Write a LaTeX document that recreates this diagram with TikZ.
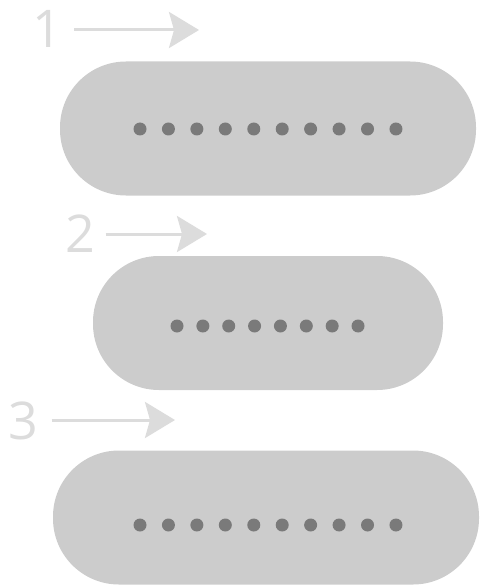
\documentclass[tikz,border=0pt]{standalone}
\usepackage{fontspec}
\setsansfont{Open Sans}
\usetikzlibrary{positioning,arrows.meta}

\definecolor{grisclaro}{HTML}{DCDCDC}
\definecolor{grispastilla}{HTML}{CCCCCC}
\definecolor{grispunto}{HTML}{7A7A7A}

\begin{document}
\begin{tikzpicture}[x=1pt, y=-1pt,
  pastilla/.style={rectangle, fill=grispastilla, rounded corners=66pt,
    minimum height=134pt, inner sep=0pt},
  etiq/.style={font=\sffamily\fontsize{52}{52}\selectfont, text=grisclaro,
    inner sep=0pt},
  flecha/.style={draw=grisclaro, line width=3pt,
    -{Stealth[length=30pt, width=36pt, inset=5pt]}},
  punto/.style={fill=grispunto}]
\useasboundingbox (0,0) rectangle (480,588);
% Pastillas con sus filas de puntos
\node[pastilla, minimum width=416pt] (p1) at (268,128.5) {};
\node[pastilla, minimum width=350pt] (p2) at (268,323) {};
\node[pastilla, minimum width=426pt] (p3) at (266,517.5) {};
\foreach \i in {0,...,9} \fill[punto] (140+28.44*\i,129) circle (6.5pt);
\foreach \i in {0,...,7} \fill[punto] (177+25.86*\i,326) circle (6.5pt);
\foreach \i in {0,...,9} \fill[punto] (140+28.44*\i,525) circle (6.5pt);
% Numeros y flechas encima de cada pastilla
\node[etiq] (n1) at (47,29) {1};
\node[etiq] (n2) at (80.5,233.5) {2};
\node[etiq] (n3) at (23.5,420.5) {3};
\coordinate (f1) at (199,30);
\coordinate (f2) at (207,234);
\coordinate (f3) at (175,420);
\draw[flecha] ([xshift=12pt]n1.east |- f1) -- (f1);
\draw[flecha] ([xshift=10pt]n2.east |- f2) -- (f2);
\draw[flecha] ([xshift=13pt]n3.east |- f3) -- (f3);
\end{tikzpicture}
\end{document}
